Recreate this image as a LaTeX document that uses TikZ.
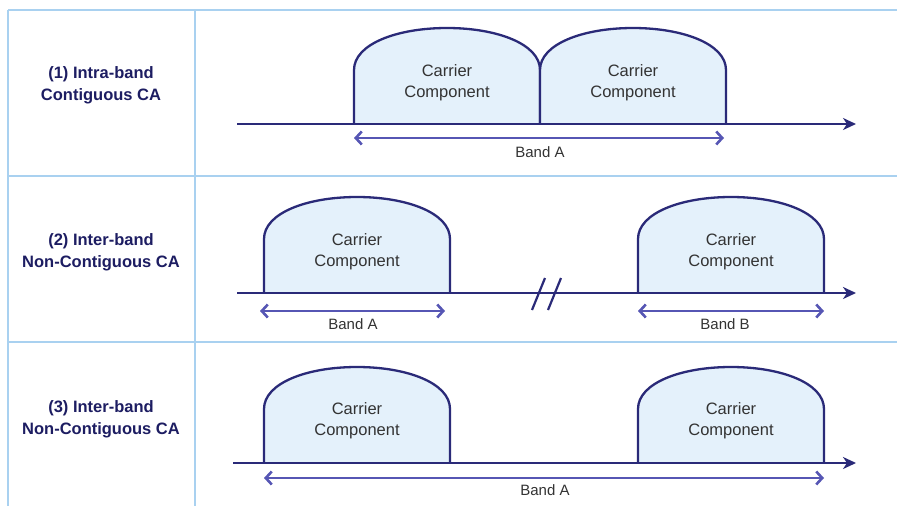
\documentclass[tikz,border=0pt]{standalone}
\usepackage{fontspec}
\setmainfont{Liberation Sans}
\usetikzlibrary{arrows.meta}
\definecolor{gridblue}{HTML}{A9D1F0}
\definecolor{navy}{HTML}{1D1D62}
\definecolor{axisblue}{HTML}{2A2A78}
\definecolor{bandblue}{HTML}{5656B4}
\definecolor{ccfill}{HTML}{E4F1FB}
\definecolor{txtgray}{HTML}{333333}
\tikzset{
 gridline/.style={draw=gridblue, line width=2pt},
 axisline/.style={draw=axisblue, line width=2.4pt, -{Stealth[length=13pt,width=12pt,inset=4pt]}},
 bandarrow/.style={draw=bandblue, line width=2.6pt, {Straight Barb[length=6pt,width=13pt]}-{Straight Barb[length=6pt,width=13pt]}},
 rowlabel/.style={font=\fontsize{16.5}{22}\selectfont\bfseries, text=navy, align=center},
 cctext/.style={font=\fontsize{16.5}{21}\selectfont, text=txtgray, align=center},
 bandtext/.style={font=\fontsize{15}{18}\selectfont, text=txtgray},
 breakmark/.style={draw=axisblue, line width=2.2pt},
 carrier/.pic={\path[fill=ccfill, draw=axisblue, line width=2.3pt] (-93,0) -- (-93,-54) .. controls (-93,-80) and (-50,-96) .. (0,-96) .. controls (50,-96) and (93,-80) .. (93,-54) -- (93,0);}
}
\begin{document}
\begin{tikzpicture}[x=1pt,y=-1pt]
\useasboundingbox (0,0) rectangle (897,506);
\fill[white] (0,0) rectangle (897,506);
% grid
\coordinate (gTL) at (8,10);
\coordinate (gTR) at (897,10);
\coordinate (gBL) at (8,506);
\coordinate (gMT) at (195,10);
\coordinate (gMB) at (195,506);
\coordinate (h1L) at (8,176);
\coordinate (h1R) at (897,176);
\coordinate (h2L) at (8,342);
\coordinate (h2R) at (897,342);
\draw[gridline] (gTL) -- (gTR);
\draw[gridline] (gTL) -- (gBL);
\draw[gridline] (gMT) -- (gMB);
\draw[gridline] (h1L) -- (h1R);
\draw[gridline] (h2L) -- (h2R);
% row labels
\node[rowlabel] (lab1) at (101,85) {(1) Intra-band\\Contiguous CA};
\node[rowlabel] (lab2) at (101,252) {(2) Inter-band\\Non-Contiguous CA};
\node[rowlabel] (lab3) at (101,419) {(3) Inter-band\\Non-Contiguous CA};
% row 1
\pic at (447,124) {carrier};
\pic at (633,124) {carrier};
\coordinate (ax1s) at (237,124);
\coordinate (ax1e) at (856,124);
\draw[axisline] (ax1s) -- (ax1e);
\node[cctext] (cc11) at (447,83) {Carrier\\Component};
\node[cctext] (cc12) at (633,83) {Carrier\\Component};
\coordinate (b1s) at (354,138);
\coordinate (b1e) at (724,138);
\draw[bandarrow] (b1s) -- (b1e);
\node[bandtext] (bl1) at (540,152) {Band A};
% row 2
\pic at (357,293) {carrier};
\pic at (731,293) {carrier};
\coordinate (ax2s) at (237,293);
\coordinate (ax2e) at (856,293);
\draw[axisline] (ax2s) -- (ax2e);
\coordinate (k1a) at (532,310);
\coordinate (k1b) at (545,278);
\coordinate (k2a) at (548,310);
\coordinate (k2b) at (561,278);
\draw[breakmark] (k1a) -- (k1b);
\draw[breakmark] (k2a) -- (k2b);
\node[cctext] (cc21) at (357,252) {Carrier\\Component};
\node[cctext] (cc22) at (731,252) {Carrier\\Component};
\coordinate (b2s) at (260,311);
\coordinate (b2e) at (445,311);
\draw[bandarrow] (b2s) -- (b2e);
\node[bandtext] (bl2) at (353,324) {Band A};
\coordinate (b3s) at (638,311);
\coordinate (b3e) at (824,311);
\draw[bandarrow] (b3s) -- (b3e);
\node[bandtext] (bl3) at (725,324) {Band B};
% row 3
\pic at (357,463) {carrier};
\pic at (731,463) {carrier};
\coordinate (ax3s) at (233,463);
\coordinate (ax3e) at (856,463);
\draw[axisline] (ax3s) -- (ax3e);
\node[cctext] (cc31) at (357,421) {Carrier\\Component};
\node[cctext] (cc32) at (731,421) {Carrier\\Component};
\coordinate (b4s) at (264,478);
\coordinate (b4e) at (824,478);
\draw[bandarrow] (b4s) -- (b4e);
\node[bandtext] (bl4) at (545,490) {Band A};
\end{tikzpicture}
\end{document}
